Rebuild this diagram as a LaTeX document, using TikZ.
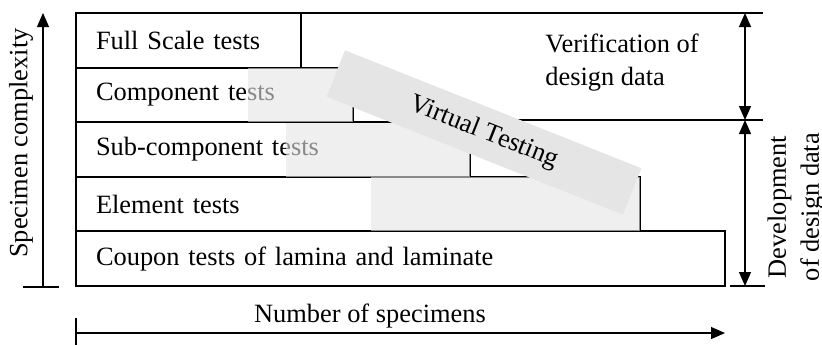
\documentclass[tikz,border=0pt]{standalone}
\usepackage{fontspec}
\setmainfont{Liberation Serif}
\usetikzlibrary{arrows.meta,positioning}

\begin{document}
\begin{tikzpicture}[
  x=0.5pt, y=-0.5pt,
  font=\fontsize{13.2pt}{16.5pt}\selectfont,
  row/.style={draw, line width=1pt, outer sep=0pt, minimum height=27.3pt,
    inner xsep=10pt, align=left, text width=#1},
  veil/.style={fill=black!10, fill opacity=0.6},
  band/.style={fill=gray!20, minimum width=159.5pt, minimum height=25pt,
    rotate=-21.7},
  axis/.style={line width=0.6pt},
  arr/.style={axis, -{Triangle[length=7pt, width=6pt]}},
  dbl/.style={axis, {Triangle[length=7pt, width=6pt]}-{Triangle[length=7pt, width=6pt]}},
  lbl/.style={inner sep=0pt},
]
\useasboundingbox (0,0) rectangle (822,345);

% test levels, stacked from the top
\node[row=92.5pt, anchor=north west] (full) at (76,13) {Full Scale tests};
\node[row=118.5pt, below right=0pt and 0pt of full.south west] (comp)
  {Component tests};
\node[row=177pt, below right=0pt and 0pt of comp.south west] (sub)
  {Sub-component tests};
\node[row=262pt, below right=0pt and 0pt of sub.south west] (elem)
  {Element tests};
\node[row=304.5pt, below right=0pt and 0pt of elem.south west] (coup)
  {Coupon tests of lamina and laminate};

% right-hand brackets
\coordinate (vtop) at (745,13);
\coordinate (vmid) at (745,120);
\coordinate (vbot) at (745,286);
\draw[axis] (full.north east) -- (763,13);
\draw[axis] (470,120) -- (763,120);
\draw[axis] (730,286) -- (765,286);
\draw[dbl] (vtop) -- (vmid);
\draw[dbl] (vmid) -- (vbot);

% shares taken over by simulation
\fill[veil] (248,68) rectangle (comp.south east);
\fill[veil] (286,123) rectangle (sub.south east);
\fill[veil] (371,177) rectangle (elem.south east);
\node[band] (vt) at (484,132.5) {Virtual Testing};

\node[lbl, anchor=west, align=left] (verif) at (545,63)
  {Verification of\\design data};
\node[lbl, rotate=90, align=center] (devel) at (796,207)
  {Development\\of design data};

% axes
\coordinate (yfoot) at (43,287);
\coordinate (ytip) at (43,13);
\draw[arr] (yfoot) -- (ytip);
\draw[axis] (23,287) -- (59,287);
\node[lbl, rotate=90] (ycap) at (21,143) {Specimen complexity};

\coordinate (xfoot) at (76,333);
\coordinate (xtip) at (725,333);
\draw[arr] (xfoot) -- (xtip);
\draw[axis] (76,318) -- (76,345);
\node[lbl] (xcap) at (370,316) {Number of specimens};

\end{tikzpicture}
\end{document}
